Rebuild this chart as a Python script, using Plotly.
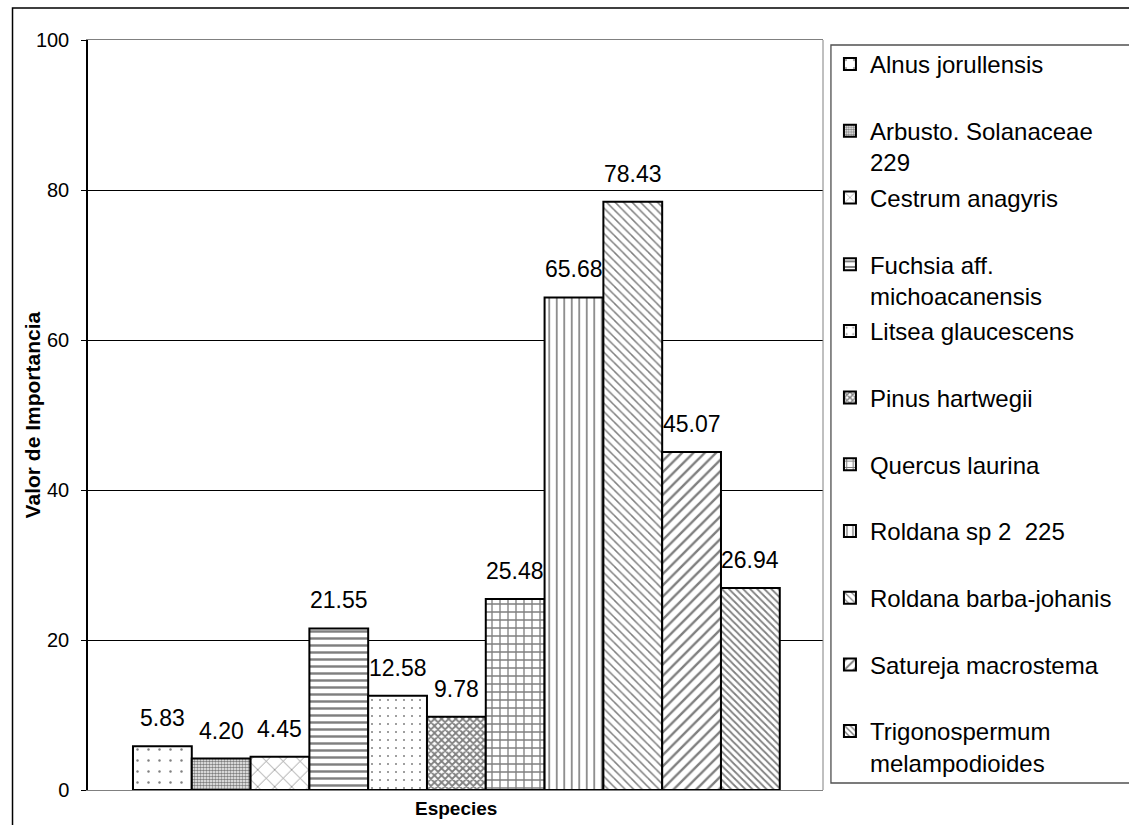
import plotly.graph_objects as go

# Importance value (Valor de Importancia) per species
especies = [
    "Alnus jorullensis",
    "Arbusto. Solanaceae<br>229",
    "Cestrum anagyris",
    "Fuchsia aff.<br>michoacanensis",
    "Litsea glaucescens",
    "Pinus hartwegii",
    "Quercus laurina",
    "Roldana sp 2  225",
    "Roldana barba-johanis",
    "Satureja macrostema",
    "Trigonospermum<br>melampodioides",
]
valores = [5.83, 4.20, 4.45, 21.55, 12.58, 9.78, 25.48, 65.68, 78.43, 45.07, 26.94]
y_ticks = [0, 20, 40, 60, 80, 100]

# fill pattern per species: (shape, tile size, solidity)
patrones = [
    (".", 11, 0.04),
    (".", 3, 0.6),
    ("x", 12, 0.12),
    ("-", 7, 0.35),
    (".", 8, 0.05),
    ("x", 5, 0.6),
    ("+", 8, 0.3),
    ("|", 7.5, 0.22),
    ("\\", 6, 0.25),
    ("/", 8, 0.3),
    ("\\", 5, 0.35),
]

FONT = "Arial, 'Liberation Sans', sans-serif"

fig = go.Figure()
for i, (nombre, v, (shape, size, sol)) in enumerate(zip(especies, valores, patrones)):
    # single-line names get an empty second line so every legend entry has the same height
    leg_name = nombre if "<br>" in nombre else nombre + "<br>&nbsp;"
    fig.add_trace(go.Bar(
        x=[i], y=[v], width=1, name=leg_name, legendgroup=f"g{i}",
        marker=dict(
            color="white",
            line=dict(color="black", width=2),
            pattern=dict(shape=shape, size=size, solidity=sol,
                         fgcolor="black", bgcolor="white", fillmode="overlay"),
        ),
        hoverinfo="skip",
    ))
    fig.add_annotation(x=i, y=v, text=f"{v:.2f}", showarrow=False,
                       yanchor="middle", yshift=28,
                       font=dict(family=FONT, size=23, color="black"))

W, H = 1129, 825
L, R, T, B = 88, 828, 40, 790
pw, ph = R - L, B - T

def px(xp):
    return (xp - L) / pw

def py(yp):
    return (B - yp) / ph

fig.update_layout(
    width=W, height=H,
    margin=dict(l=L, r=W - R, t=T, b=H - B),
    paper_bgcolor="white", plot_bgcolor="white",
    barmode="overlay",
    font=dict(family=FONT, color="black"),
    showlegend=True,
    legend=dict(
        x=px(835), y=py(42), xanchor="left", yanchor="top",
        valign="top", tracegroupgap=1.3,
        font=dict(family=FONT, size=24, color="black"),
        bgcolor="rgba(0,0,0,0)", borderwidth=0,
    ),
    xaxis=dict(range=[-1.265, 11.235], showticklabels=False, ticks="",
               showgrid=False, zeroline=False, showline=True,
               linecolor="#808080", linewidth=1, mirror=True, fixedrange=True),
    yaxis=dict(range=[0, 100], tickvals=y_ticks, ticks="outside", ticklen=5,
               tickcolor="black", tickwidth=1, ticklabelstandoff=8,
               tickfont=dict(family=FONT, size=20, color="black"),
               showgrid=True, gridcolor="black", gridwidth=1,
               zeroline=False, showline=True, linecolor="black", linewidth=1.5,
               fixedrange=True),
    shapes=[
        # right edge of the plot area
        dict(type="line", xref="paper", yref="paper", x0=1, x1=1, y0=0, y1=1,
             line=dict(color="#808080", width=1)),
        # legend frame
        dict(type="rect", xref="paper", yref="paper",
             x0=px(836), x1=px(1140), y0=py(783), y1=py(45),
             line=dict(color="#505050", width=1.3)),
        # outer chart frame
        dict(type="rect", xref="paper", yref="paper",
             x0=px(12), x1=px(1140), y0=py(840), y1=py(8),
             line=dict(color="black", width=1.5)),
    ],
)

fig.add_annotation(xref="paper", yref="paper", x=0.5, y=py(808),
                   text="<b>Especies</b>", showarrow=False,
                   xanchor="center", yanchor="middle",
                   font=dict(family=FONT, size=19, color="black"))
fig.add_annotation(xref="paper", yref="paper", x=px(32), y=py(415),
                   text="<b>Valor de Importancia</b>", showarrow=False, textangle=-90,
                   xanchor="center", yanchor="middle",
                   font=dict(family=FONT, size=21, color="black"))

fig.write_html("out.html")
